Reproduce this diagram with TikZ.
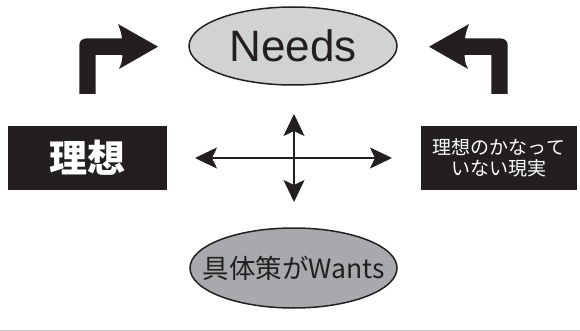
\documentclass[tikz,border=0pt]{standalone}
\usepackage{fontspec}
\setmainfont{Liberation Sans}
\newfontfamily\jp{Noto Sans CJK JP}
\usetikzlibrary{shapes.geometric,arrows.meta}
\definecolor{ink}{HTML}{231F20}
\definecolor{lightfill}{HTML}{D1D2D4}
\definecolor{darkfill}{HTML}{A7A9AC}
\definecolor{rule}{HTML}{C4C4C4}
\tikzset{
  oval/.style={ellipse, draw=ink, line width=1.5pt, inner sep=0pt, text=ink},
  blackbox/.style={rectangle, fill=ink, text=white, inner sep=0pt, align=center},
  dbl/.style={ink, line width=2pt, {Stealth[length=22pt,width=21pt,inset=5pt]}-{Stealth[length=22pt,width=21pt,inset=5pt]}},
  bent/.style={fill=ink, draw=none}
}
\begin{document}
\begin{tikzpicture}[x=1pt,y=-1pt]
\useasboundingbox (0,0) rectangle (580,331);
% ellipses
\node[oval, fill=lightfill, minimum width=208pt, minimum height=78pt,
  font=\fontsize{44}{44}\selectfont] (needs) at (293,46)
  {\makebox[0pt]{Needs}};
\node[oval, fill=darkfill, minimum width=207pt, minimum height=80pt,
  font=\jp\fontsize{26.5}{27}\selectfont] (wants) at (293.5,268)
  {\makebox[0pt]{具体策がWants}};
% boxes
\node[blackbox, minimum width=159pt, minimum height=64pt,
  font=\jp\bfseries\fontsize{38}{38}\selectfont] (ideal) at (87.5,158)
  {理想};
\node[blackbox, minimum width=156pt, minimum height=64pt,
  font=\jp\fontsize{19}{21}\selectfont] (real) at (499,158)
  {理想のかなって\\いない現実};
% cross
\coordinate (hl) at (195,158);
\coordinate (hr) at (392,158);
\coordinate (vt) at (294,114);
\coordinate (vb) at (294,202);
\draw[dbl] (hl) -- (hr);
\draw[dbl] (vt) -- (vb);
% bent arrows
\fill[bent] (79.3,94) -- (79.3,45) arc[start angle=180,end angle=270,radius=6.5] -- (122,38.5)
  .. controls (121,32) .. (118,24) -- (158,46.7) -- (119,69)
  .. controls (122,62) .. (122.5,55) -- (95.7,55) -- (95.7,94) -- cycle;
\begin{scope}[xshift=587pt, xscale=-1]
\fill[bent] (79.3,94) -- (79.3,45) arc[start angle=180,end angle=270,radius=6.5] -- (122,38.5)
  .. controls (121,32) .. (118,24) -- (158,46.7) -- (119,69)
  .. controls (122,62) .. (122.5,55) -- (95.7,55) -- (95.7,94) -- cycle;
\end{scope}
% bottom rule
\coordinate (rl) at (0,330.3);
\coordinate (rr) at (580,330.3);
\draw[rule, line width=1.4pt] (rl) -- (rr);
\end{tikzpicture}
\end{document}
